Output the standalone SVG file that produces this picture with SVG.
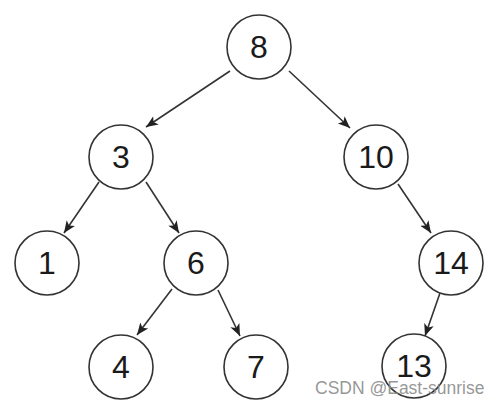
<svg xmlns="http://www.w3.org/2000/svg" width="492" height="404" viewBox="0 0 492 404">
<style>
.n circle{fill:#fff;stroke:#333;stroke-width:1.6}
.n text{font-family:"Liberation Sans",Arial,sans-serif;font-size:32px;fill:#1a1a1a;text-anchor:middle;dominant-baseline:central}
#edges line{stroke:#333;stroke-width:1.6;marker-end:url(#ah)}
.wm{font-family:"Liberation Sans",Arial,sans-serif;font-size:17.5px;fill:#8a8a8a;fill-opacity:0.9}
</style>
<defs>
<marker id="ah" markerUnits="userSpaceOnUse" markerWidth="14" markerHeight="12" refX="12" refY="5" orient="auto" viewBox="0 0 14 10">
<path d="M0,0 L12,5 L0,10 L3,5 Z" fill="#222"/>
</marker>
</defs>
<rect width="492" height="404" fill="#fff"/>
<g id="edges">
<line x1="230" y1="71" x2="146" y2="127"/>
<line x1="289" y1="71" x2="350" y2="128"/>
<line x1="99" y1="182" x2="64" y2="233"/>
<line x1="146" y1="182" x2="179" y2="233"/>
<line x1="172" y1="289" x2="137" y2="335"/>
<line x1="218" y1="290" x2="240" y2="336"/>
<line x1="398" y1="184" x2="431" y2="233"/>
<line x1="440" y1="293" x2="425" y2="336"/>
</g>
<g id="n8" class="n"><circle cx="259" cy="47" r="32"/><text x="259" y="47">8</text></g>
<g id="n3" class="n"><circle cx="121" cy="157" r="32"/><text x="121" y="157">3</text></g>
<g id="n10" class="n"><circle cx="376" cy="157" r="32"/><text x="376" y="157">10</text></g>
<g id="n1" class="n"><circle cx="47" cy="263" r="32"/><text x="47" y="263">1</text></g>
<g id="n6" class="n"><circle cx="196" cy="263" r="32"/><text x="196" y="263">6</text></g>
<g id="n14" class="n"><circle cx="451" cy="263" r="32"/><text x="451" y="263">14</text></g>
<g id="n4" class="n"><circle cx="121" cy="367" r="32"/><text x="121" y="367">4</text></g>
<g id="n7" class="n"><circle cx="256" cy="367" r="32"/><text x="256" y="367">7</text></g>
<g id="n13" class="n"><circle cx="414" cy="366" r="32"/><text x="414" y="366">13</text></g>
<text class="wm" x="315" y="394">CSDN @East-sunrise</text>
</svg>
